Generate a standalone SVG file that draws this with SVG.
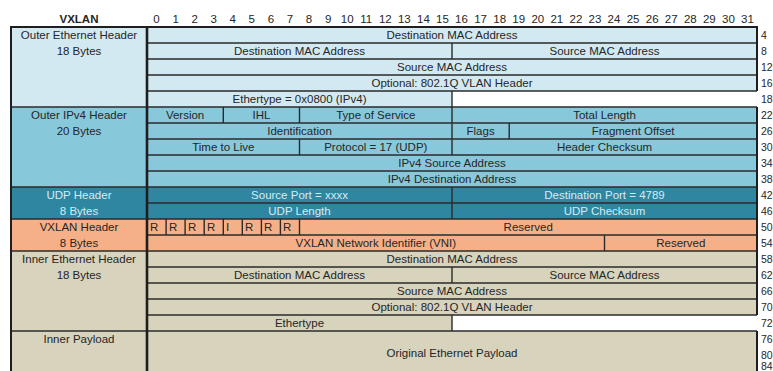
<svg xmlns="http://www.w3.org/2000/svg" width="773" height="371" viewBox="0 0 773 371">
  <style>
    text { font-family: "Liberation Sans", Arial, sans-serif; font-size: 11.5px; fill: #262626; }
    .c { text-anchor: middle; }
    .l { text-anchor: start; }
    .b { font-weight: bold; }
    .off { font-size: 10.5px; }
    .lt { fill: #d3ecf5; }
    .eth { fill: #d3e9f1; }
    .ip { fill: #88c8db; }
    .udp { fill: #2f86a1; }
    .vx { fill: #f6b087; }
    .tan { fill: #d7d3bd; }
    .row { stroke: #2b2b2b; stroke-width: 1.4; fill: none; }
    .div { stroke: #1e1e1e; stroke-width: 2.6; fill: none; }
    .frame { stroke: #1e1e1e; stroke-width: 2; fill: none; }
  </style>

  <rect width="773" height="371" fill="#ffffff"/>

  <!-- bit ruler -->
  <g id="ruler">
    <text class="c b" x="79" y="23">VXLAN</text>
    <text class="c" x="156.5" y="23">0</text>
    <text class="c" x="175.6" y="23">1</text>
    <text class="c" x="194.7" y="23">2</text>
    <text class="c" x="213.7" y="23">3</text>
    <text class="c" x="232.8" y="23">4</text>
    <text class="c" x="251.8" y="23">5</text>
    <text class="c" x="270.9" y="23">6</text>
    <text class="c" x="290.0" y="23">7</text>
    <text class="c" x="309.0" y="23">8</text>
    <text class="c" x="328.1" y="23">9</text>
    <text class="c" x="347.2" y="23">10</text>
    <text class="c" x="366.2" y="23">11</text>
    <text class="c" x="385.3" y="23">12</text>
    <text class="c" x="404.3" y="23">13</text>
    <text class="c" x="423.4" y="23">14</text>
    <text class="c" x="442.5" y="23">15</text>
    <text class="c" x="461.5" y="23">16</text>
    <text class="c" x="480.6" y="23">17</text>
    <text class="c" x="499.7" y="23">18</text>
    <text class="c" x="518.7" y="23">19</text>
    <text class="c" x="537.8" y="23">20</text>
    <text class="c" x="556.8" y="23">21</text>
    <text class="c" x="575.9" y="23">22</text>
    <text class="c" x="595.0" y="23">23</text>
    <text class="c" x="614.0" y="23">24</text>
    <text class="c" x="633.1" y="23">25</text>
    <text class="c" x="652.2" y="23">26</text>
    <text class="c" x="671.2" y="23">27</text>
    <text class="c" x="690.3" y="23">28</text>
    <text class="c" x="709.3" y="23">29</text>
    <text class="c" x="728.4" y="23">30</text>
    <text class="c" x="747.5" y="23">31</text>
  </g>

  <!-- outer Ethernet header -->
  <g id="outer-ethernet">
    <rect class="eth" x="11" y="27" width="746" height="80"/>
    <rect fill="#ffffff" x="452" y="91" width="321" height="16"/>
    <text class="c" x="79" y="39">Outer Ethernet Header</text>
    <text class="c" x="79" y="55">18 Bytes</text>
    <text class="c" x="452" y="39">Destination MAC Address</text>
    <text class="c" x="299.5" y="55">Destination MAC Address</text>
    <text class="c" x="604.5" y="55">Source MAC Address</text>
    <text class="c" x="452" y="71">Source MAC Address</text>
    <text class="c" x="452" y="87">Optional: 802.1Q VLAN Header</text>
    <text class="c" x="299.5" y="103">Ethertype = 0x0800 (IPv4)</text>
    <path class="row" d="M147 43H757M147 59H757M147 75H757M147 91H757M452 43V59M452 91V107"/>
  </g>

  <!-- outer IPv4 header -->
  <g id="outer-ipv4">
    <rect class="ip" x="11" y="107" width="746" height="80"/>
    <text class="c" x="79" y="119">Outer IPv4 Header</text>
    <text class="c" x="79" y="135">20 Bytes</text>
    <text class="c" x="185.1" y="119">Version</text>
    <text class="c" x="261.4" y="119">IHL</text>
    <text class="c" x="375.8" y="119">Type of Service</text>
    <text class="c" x="604.5" y="119">Total Length</text>
    <text class="c" x="299.5" y="135">Identification</text>
    <text class="c" x="480.6" y="135">Flags</text>
    <text class="c" x="633.1" y="135">Fragment Offset</text>
    <text class="c" x="223.3" y="151">Time to Live</text>
    <text class="c" x="375.8" y="151">Protocol = 17 (UDP)</text>
    <text class="c" x="604.5" y="151">Header Checksum</text>
    <text class="c" x="452" y="167">IPv4 Source Address</text>
    <text class="c" x="452" y="183">IPv4 Destination Address</text>
    <path class="row" d="M11 107H757M147 123H757M147 139H757M147 155H757M147 171H757M223.3 107V123M299.5 107V123M452 107V155M509.2 123V139M299.5 139V155"/>
  </g>

  <!-- UDP header -->
  <g id="udp">
    <rect class="udp" x="11" y="187" width="746" height="32"/>
    <text class="c lt" x="79" y="199">UDP Header</text>
    <text class="c lt" x="79" y="215">8 Bytes</text>
    <text class="c lt" x="299.5" y="199">Source Port = xxxx</text>
    <text class="c lt" x="604.5" y="199">Destination Port = 4789</text>
    <text class="c lt" x="299.5" y="215">UDP Length</text>
    <text class="c lt" x="604.5" y="215">UDP Checksum</text>
    <path class="row" d="M11 187H757M147 203H757M452 187V219"/>
  </g>

  <!-- VXLAN header -->
  <g id="vxlan">
    <rect class="vx" x="11" y="219" width="746" height="32"/>
    <text class="c" x="79" y="231">VXLAN Header</text>
    <text class="c" x="79" y="247">8 Bytes</text>
    <text class="l" x="150" y="231">R</text>
    <text class="l" x="169" y="231">R</text>
    <text class="l" x="188" y="231">R</text>
    <text class="l" x="207" y="231">R</text>
    <text class="l" x="226" y="231">I</text>
    <text class="l" x="245" y="231">R</text>
    <text class="l" x="264" y="231">R</text>
    <text class="l" x="283" y="231">R</text>
    <text class="c" x="528.2" y="231">Reserved</text>
    <text class="c" x="375.8" y="247">VXLAN Network Identifier (VNI)</text>
    <text class="c" x="680.8" y="247">Reserved</text>
    <path class="row" d="M11 219H757M147 235H757M166.1 219V235M185.1 219V235M204.2 219V235M223.3 219V235M242.3 219V235M261.4 219V235M280.4 219V235M299.5 219V235M604.5 235V251"/>
  </g>

  <!-- inner Ethernet header -->
  <g id="inner-ethernet">
    <rect class="tan" x="11" y="251" width="746" height="80"/>
    <rect fill="#ffffff" x="452" y="315" width="321" height="16"/>
    <text class="c" x="79" y="263">Inner Ethernet Header</text>
    <text class="c" x="79" y="279">18 Bytes</text>
    <text class="c" x="452" y="263">Destination MAC Address</text>
    <text class="c" x="299.5" y="279">Destination MAC Address</text>
    <text class="c" x="604.5" y="279">Source MAC Address</text>
    <text class="c" x="452" y="295">Source MAC Address</text>
    <text class="c" x="452" y="311">Optional: 802.1Q VLAN Header</text>
    <text class="c" x="299.5" y="327">Ethertype</text>
    <path class="row" d="M11 251H757M147 267H757M147 283H757M147 299H757M147 315H757M452 267V283M452 315V331"/>
  </g>

  <!-- inner payload -->
  <g id="inner-payload">
    <rect class="tan" x="11" y="331" width="746" height="40"/>
    <text class="c" x="79" y="343">Inner Payload</text>
    <text class="c" x="452" y="357">Original Ethernet Payload</text>
    <path class="row" d="M11 331H757"/>
  </g>

  <!-- outline and column divider -->
  <g id="frame">
    <path class="frame" d="M757 91V27H11V371M757 107V315M757 331V371"/>
    <path class="div" d="M147 27V371"/>
  </g>

  <!-- byte offsets -->
  <g id="offsets">
    <text class="l off" x="761" y="39">4</text>
    <text class="l off" x="761" y="55">8</text>
    <text class="l off" x="761" y="71">12</text>
    <text class="l off" x="761" y="87">16</text>
    <text class="l off" x="761" y="103">18</text>
    <text class="l off" x="761" y="119">22</text>
    <text class="l off" x="761" y="135">26</text>
    <text class="l off" x="761" y="151">30</text>
    <text class="l off" x="761" y="167">34</text>
    <text class="l off" x="761" y="183">38</text>
    <text class="l off" x="761" y="199">42</text>
    <text class="l off" x="761" y="215">46</text>
    <text class="l off" x="761" y="231">50</text>
    <text class="l off" x="761" y="247">54</text>
    <text class="l off" x="761" y="263">58</text>
    <text class="l off" x="761" y="279">62</text>
    <text class="l off" x="761" y="295">66</text>
    <text class="l off" x="761" y="311">70</text>
    <text class="l off" x="761" y="327">72</text>
    <text class="l off" x="761" y="343">76</text>
    <text class="l off" x="761" y="359">80</text>
    <text class="l off" x="761" y="370">84</text>
  </g>
</svg>
